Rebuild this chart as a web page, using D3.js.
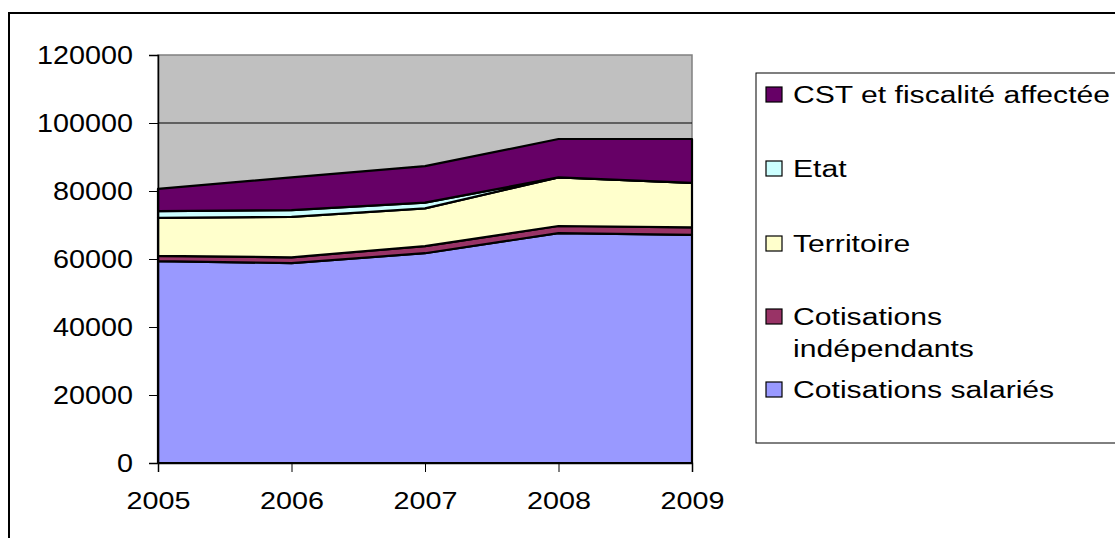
<!DOCTYPE html>
<html>
<head>
<meta charset="utf-8">
<script src="https://cdn.jsdelivr.net/npm/d3@7"></script>
<style>
  body { margin: 0; background: #fff; }
  svg { display: block; font-family: "Liberation Sans", Arial, sans-serif; }
</style>
</head>
<body>
<svg width="1115" height="538"></svg>
<script>
var years = ["2005", "2006", "2007", "2008", "2009"],
    salaries = [59400, 58800, 61700, 67600, 67100],
    independants = [1500, 1700, 2100, 2100, 2200],
    territoire = [11200, 11900, 11100, 14300, 13100],
    etat = [2000, 2000, 1700, 0, 0],
    cst = [6500, 9600, 10700, 11300, 12900],
    yTicks = [0, 20000, 40000, 60000, 80000, 100000, 120000];

var keys = ["salaries", "independants", "territoire", "etat", "cst"],
    labels = {
        cst: ["CST et fiscalité affectée"],
        etat: ["Etat"],
        territoire: ["Territoire"],
        independants: ["Cotisations", "indépendants"],
        salaries: ["Cotisations salariés"]
    },
    colors = {
        salaries: "#9999ff",
        independants: "#993366",
        territoire: "#ffffcc",
        etat: "#ccffff",
        cst: "#660066"
    };

var rows = years.map(function(y, i) {
    return {year: y, salaries: salaries[i], independants: independants[i],
            territoire: territoire[i], etat: etat[i], cst: cst[i]};
});

var svg = d3.select("svg"),
    plot = {left: 158, right: 692, top: 55, bottom: 463};

var x = d3.scalePoint().domain(years).range([plot.left, plot.right]),
    y = d3.scaleLinear().domain([0, 120000]).range([plot.bottom, plot.top]);

// outer chart frame
svg.append("rect")
    .attr("x", 9).attr("y", 13)
    .attr("width", 1200).attr("height", 600)
    .attr("fill", "#fff").attr("stroke", "#000").attr("stroke-width", 2);

// plot background
svg.append("rect")
    .attr("x", plot.left).attr("y", plot.top)
    .attr("width", plot.right - plot.left).attr("height", plot.bottom - plot.top)
    .attr("fill", "#c0c0c0").attr("stroke", "#808080").attr("stroke-width", 1.5);

// gridlines
svg.append("g").selectAll("line")
    .data(yTicks.slice(1, -1))
    .enter().append("line")
    .attr("x1", plot.left).attr("x2", plot.right)
    .attr("y1", function(d) { return y(d); })
    .attr("y2", function(d) { return y(d); })
    .attr("stroke", "#000").attr("stroke-width", 1);

var stack = d3.stack().keys(keys),
    series = stack(rows);

var area = d3.area()
    .x(function(d) { return x(d.data.year); })
    .y0(function(d) { return y(d[0]); })
    .y1(function(d) { return y(d[1]); });

svg.append("g").selectAll("path")
    .data(series)
    .enter().append("path")
    .attr("d", area)
    .attr("fill", function(d) { return colors[d.key]; })
    .attr("stroke", "#000")
    .attr("stroke-width", 2.2)
    .attr("stroke-linejoin", "round");

// y axis (labels are drawn wide, like the original)
var yAxis = svg.append("g")
    .attr("transform", "translate(" + plot.left + ",0)")
    .call(d3.axisLeft(y).tickValues(yTicks).tickSize(9).tickPadding(16).tickFormat(d3.format("d")));
yAxis.select(".domain").attr("stroke", "#000").attr("stroke-width", 1.5);
yAxis.selectAll("text")
    .attr("font-size", 25).attr("fill", "#000")
    .attr("font-family", "Liberation Sans, Arial, sans-serif")
    .attr("textLength", function(d) { return String(d).length * 16; })
    .attr("lengthAdjust", "spacingAndGlyphs");

// x axis
var xAxis = svg.append("g")
    .attr("transform", "translate(0," + plot.bottom + ")")
    .call(d3.axisBottom(x).tickSize(9).tickPadding(20));
xAxis.select(".domain").attr("stroke", "#000").attr("stroke-width", 1.5);
xAxis.selectAll("text")
    .attr("font-size", 24).attr("fill", "#000")
    .attr("font-family", "Liberation Sans, Arial, sans-serif")
    .attr("textLength", function(d) { return d.length * 16; })
    .attr("lengthAdjust", "spacingAndGlyphs");

// legend
svg.append("rect")
    .attr("x", 756).attr("y", 73)
    .attr("width", 500).attr("height", 370)
    .attr("fill", "#fff").attr("stroke", "#000").attr("stroke-width", 1);

var legendRows = [
    {key: "cst", y: 103},
    {key: "etat", y: 177},
    {key: "territoire", y: 252},
    {key: "independants", y: 325},
    {key: "salaries", y: 398}
];

var legend = svg.append("g").selectAll("g")
    .data(legendRows)
    .enter().append("g")
    .attr("transform", function(d) { return "translate(766," + d.y + ")"; });

legend.append("rect")
    .attr("x", 0).attr("y", -16)
    .attr("width", 16).attr("height", 15)
    .attr("fill", function(d) { return colors[d.key]; })
    .attr("stroke", "#000").attr("stroke-width", 1.2);

legend.append("text")
    .attr("font-size", 23)
    .attr("fill", "#000")
    .attr("transform", "translate(27,0) scale(1.31,1)")
    .selectAll("tspan")
    .data(function(d) { return labels[d.key]; })
    .enter().append("tspan")
    .attr("x", 0)
    .attr("y", function(d, i) { return i * 32; })
    .text(function(d) { return d; });
</script>
</body>
</html>
